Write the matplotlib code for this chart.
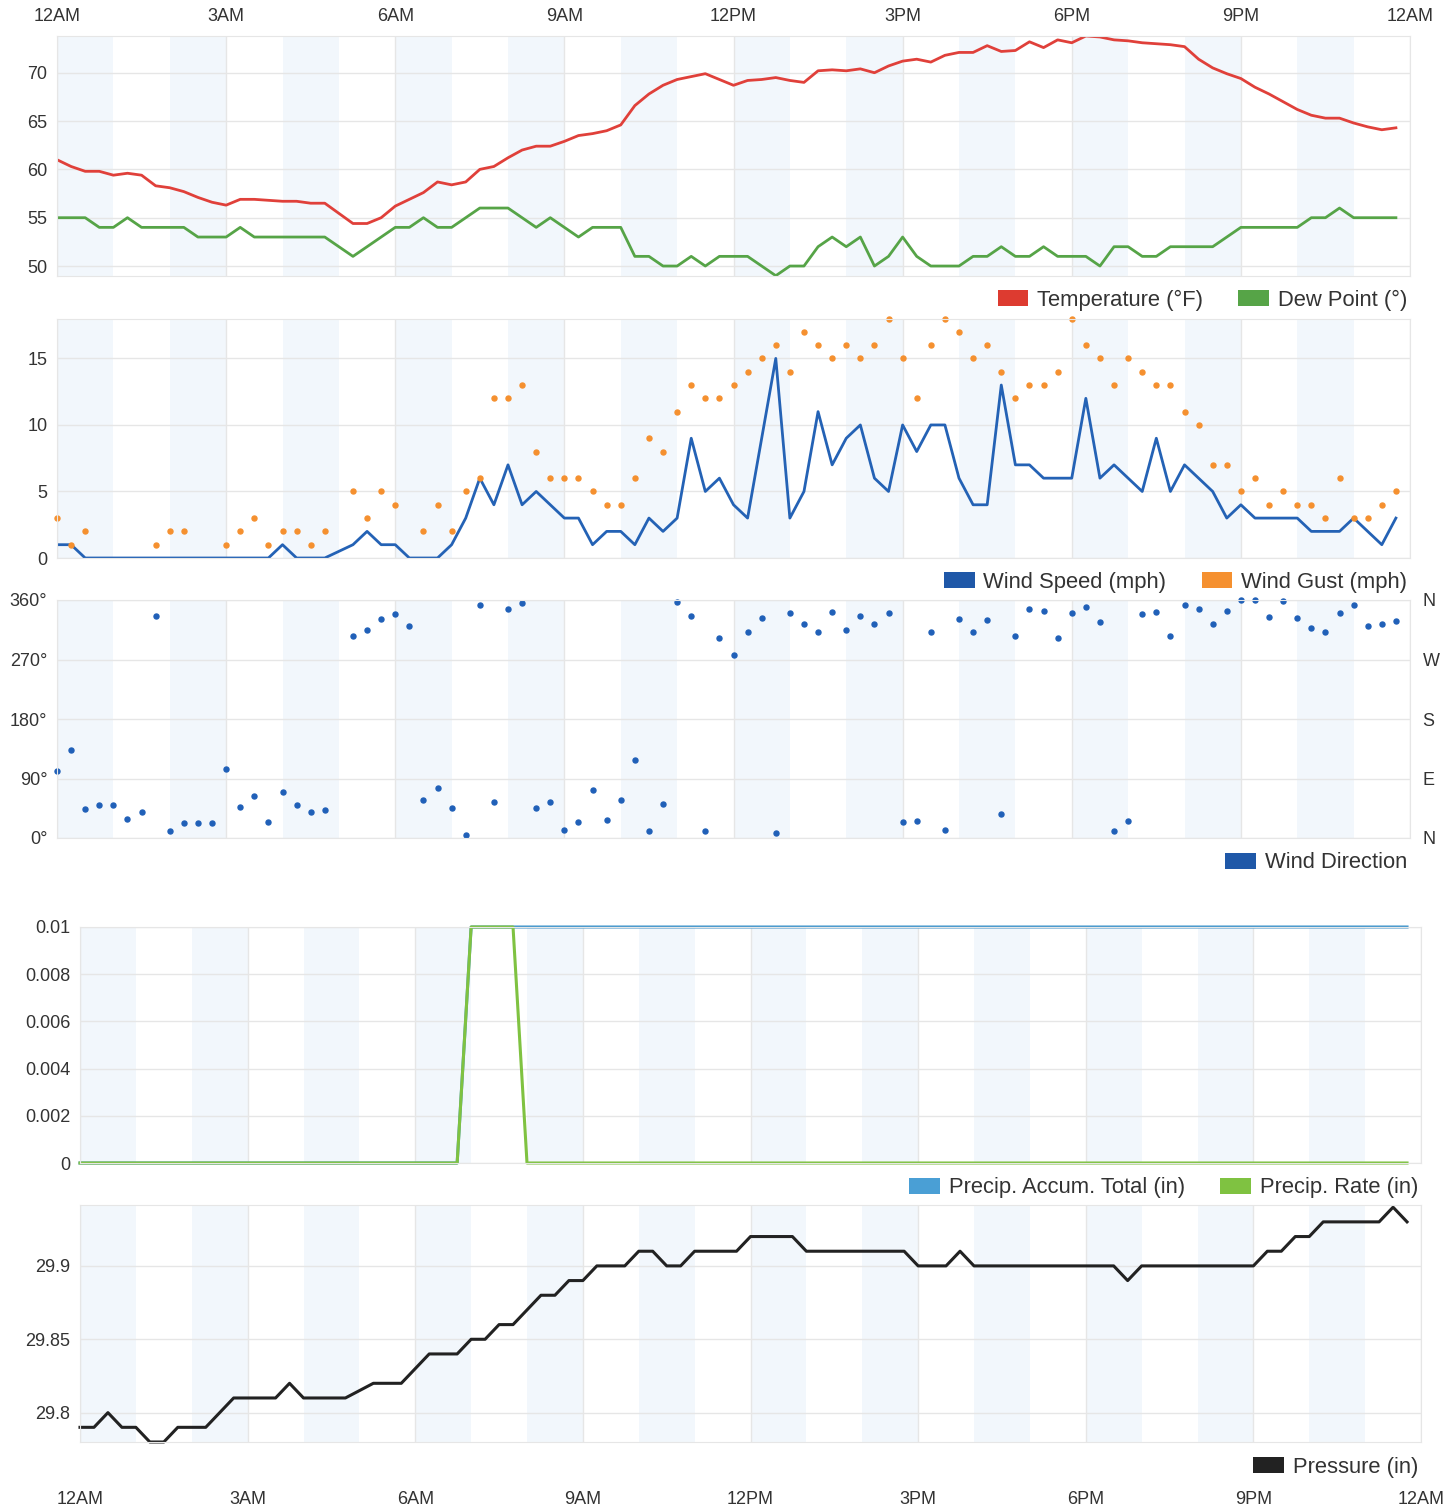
import matplotlib
matplotlib.use("Agg")
import matplotlib.pyplot as plt
import numpy as np
import pandas as pd
from matplotlib.patches import Patch

nan = np.nan

# readings every 15 minutes, the 5:00 reading is missing
times = pd.date_range("2021-06-01 00:00", periods=96, freq="15min")
times = times[times != pd.Timestamp("2021-06-01 05:00")]
hours = np.asarray((times - times[0]).total_seconds() / 3600.0)

temperature = [61.0, 60.3, 59.8, 59.8, 59.4, 59.6, 59.4, 58.3, 58.1, 57.7,
               57.1, 56.6, 56.3, 56.9, 56.9, 56.8, 56.7, 56.7, 56.5, 56.5,
               54.4, 54.4, 55.0, 56.2, 56.9, 57.6, 58.7, 58.4, 58.7, 60.0, 60.3,
               61.2, 62.0, 62.4, 62.4, 62.9, 63.5, 63.7, 64.0, 64.6, 66.6,
               67.8, 68.7, 69.3, 69.6, 69.9, 69.3, 68.7, 69.2, 69.3, 69.5,
               69.2, 69.0, 70.2, 70.3, 70.2, 70.4, 70.0, 70.7, 71.2, 71.4,
               71.1, 71.8, 72.1, 72.1,
               72.8, 72.2, 72.3, 73.2, 72.6, 73.4, 73.1, 73.8, 73.7, 73.4,
               73.3, 73.1, 73.0, 72.9, 72.7, 71.4, 70.5, 69.9, 69.4, 68.5,
               67.8, 67.0, 66.2, 65.6, 65.3, 65.3, 64.8, 64.4, 64.1, 64.3]

dew_point = [55, 55, 55, 54, 54, 55, 54, 54, 54, 54, 53, 53, 53, 54, 53, 53, 53, 53, 53, 53,
             51, 52, 53, 54, 54, 55, 54, 54, 55, 56, 56,
             56, 55, 54, 55, 54, 53, 54, 54, 54, 51, 51, 50, 50, 51, 50, 51, 51, 51, 50,
             49, 50, 50, 52, 53, 52, 53, 50, 51, 53, 51, 50, 50, 50, 51,
             51, 52, 51, 51, 52, 51, 51, 51, 50, 52, 52, 51, 51, 52, 52, 52, 52, 53, 54,
             54, 54, 54, 54, 55, 55, 56, 55, 55, 55, 55]

wind_speed = [1, 1, 0, 0, 0, 0, 0, 0, 0, 0, 0, 0, 0, 0, 0, 0, 1, 0, 0, 0,
              1, 2, 1, 1, 0, 0, 0, 1, 3, 6, 4,
              7, 4, 5, 4, 3, 3, 1, 2, 2, 1, 3, 2, 3, 9, 5, 6, 4, 3, 9, 15,
              3, 5, 11, 7, 9, 10, 6, 5, 10, 8, 10, 10, 6, 4,
              4, 13, 7, 7, 6, 6, 6, 12, 6, 7, 6, 5, 9, 5, 7, 6, 5, 3, 4, 3,
              3, 3, 3, 2, 2, 2, 3, 2, 1, 3]

wind_gust = [3, 1, 2, nan, nan, nan, nan, 1, 2, 2, nan, nan, 1, 2, 3, 1, 2, 2, 1, 2,
             5, 3, 5, 4, nan, 2, 4, 2, 5, 6, 12,
             12, 13, 8, 6, 6, 6, 5, 4, 4, 6, 9, 8, 11, 13, 12, 12, 13, 14, 15, 16,
             14, 17, 16, 15, 16, 15, 16, 18, 15, 12, 16, 18, 17, 15,
             16, 14, 12, 13, 13, 14, 18, 16, 15, 13, 15, 14, 13, 13, 11, 10, 7, 7, 5, 6,
             4, 5, 4, 4, 3, 6, 3, 3, 4, 5]

wind_dir = [102, 133, 44, 50, 50, 29, 40, 336, 11, 23, 22, 22, 104, 47, 64, 24, 70, 50, 40, 42,
            306, 315, 331, 339, 321, 57, 75, 46, 5, 353, 54,
            347, 356, 46, 54, 12, 24, 73, 27, 58, 118, 10, 52, 357, 336, 10, 303, 277, 311, 333,
            8, 341, 324, 311, 342, 315, 336, 324, 340, 24, 26, 311, 12, 332, 311,
            329, 36, 306, 346, 343, 302, 341, 350, 327, 10, 26, 339, 342, 306, 352, 346,
            324, 343, 360, 360, 334, 359, 333, 317, 311, 340, 352, 320, 324, 328]

precip_total = [0] * 27 + [0.01] * 68
precip_rate = [0] * 27 + [0.01] * 4 + [0] * 64

pressure = [29.79, 29.79, 29.80, 29.79, 29.79, 29.78, 29.78, 29.79, 29.79, 29.79,
            29.80, 29.81, 29.81, 29.81, 29.81, 29.82, 29.81, 29.81, 29.81, 29.81,
            29.82, 29.82, 29.82, 29.83, 29.84, 29.84, 29.84, 29.85, 29.85, 29.86, 29.86,
            29.87, 29.88, 29.88, 29.89, 29.89, 29.90, 29.90, 29.90, 29.91, 29.91,
            29.90, 29.90, 29.91, 29.91, 29.91, 29.91, 29.92, 29.92, 29.92, 29.92,
            29.91, 29.91, 29.91, 29.91, 29.91, 29.91, 29.91, 29.91, 29.90, 29.90,
            29.90, 29.91, 29.90, 29.90,
            29.90, 29.90, 29.90, 29.90, 29.90, 29.90, 29.90, 29.90, 29.90, 29.89,
            29.90, 29.90, 29.90, 29.90, 29.90, 29.90, 29.90, 29.90, 29.90, 29.91,
            29.91, 29.92, 29.92, 29.93, 29.93, 29.93, 29.93, 29.93, 29.94, 29.93]

hour_labels = ['12AM', '3AM', '6AM', '9AM', '12PM', '3PM', '6PM', '9PM', '12AM']

plt.rcParams['font.family'] = ['Liberation Sans', 'DejaVu Sans']

BAND = '#f2f7fc'
GRID = '#e6e6e6'
TXT = '#333333'
W, H = 1455, 1509

fig = plt.figure(figsize=(W / 100, H / 100), dpi=100)


def panel(l, t, r, b, yticks, ylabels, ylim):
    ax = fig.add_axes([l / W, 1 - b / H, (r - l) / W, (b - t) / H])
    ax.set_xlim(0, 24)
    ax.set_ylim(*ylim)
    for h in range(0, 24, 2):
        ax.axvspan(h, h + 1, color=BAND, lw=0, zorder=0)
    ax.set_xticks(range(0, 25, 3))
    ax.set_xticklabels(hour_labels)
    ax.set_yticks(yticks)
    ax.set_yticklabels(ylabels)
    ax.grid(True, color=GRID, lw=1)
    ax.set_axisbelow(True)
    for s in ax.spines.values():
        s.set_color(GRID)
    ax.tick_params(length=0, labelsize=13, colors=TXT, pad=7)
    ax.tick_params(axis='x', labelbottom=False)
    return ax


def legend(items, x, y):
    handles = [Patch(facecolor=c, edgecolor='none') for c, _ in items]
    fig.legend(handles, [lab for _, lab in items], loc='center right',
               bbox_to_anchor=(x / W, 1 - y / H), ncol=len(items), frameon=False,
               fontsize=15.8, handlelength=1.4, handleheight=0.75, handletextpad=0.4,
               columnspacing=1.6, borderpad=0, borderaxespad=0, labelcolor=TXT)


# Temperature / dew point
ax1 = panel(57, 36, 1410, 275.7, [50, 55, 60, 65, 70], ['50', '55', '60', '65', '70'], (49, 73.8))
ax1.plot(hours, temperature, color='#e0403a', lw=2)
ax1.plot(hours, dew_point, color='#56a447', lw=2)
ax1.tick_params(axis='x', labeltop=True, pad=8)
legend([('#dd3b30', 'Temperature (°F)'), ('#56a447', 'Dew Point (°)')], 1407, 300)

# Wind speed / gust
ax2 = panel(57, 318.5, 1410, 558, [0, 5, 10, 15], ['0', '5', '10', '15'], (0, 18))
ax2.plot(hours, wind_speed, color='#2462b5', lw=2)
ax2.plot(hours, wind_gust, 'o', color='#f5902f', ms=3.6, ls='none', clip_on=False)
legend([('#1f58a8', 'Wind Speed (mph)'), ('#f5902f', 'Wind Gust (mph)')], 1407, 582)

# Wind direction
ax3 = panel(57, 600, 1410, 838, [0, 90, 180, 270, 360], ['0°', '90°', '180°', '270°', '360°'], (0, 360))
ax3.plot(hours, wind_dir, 'o', color='#2060b8', ms=3.6, ls='none', clip_on=False)
ax3r = ax3.twinx()
ax3r.set_ylim(0, 360)
ax3r.set_yticks([0, 90, 180, 270, 360])
ax3r.set_yticklabels(['N', 'E', 'S', 'W', 'N'])
ax3r.tick_params(length=0, labelsize=13, colors=TXT, pad=9)
for s in ax3r.spines.values():
    s.set_visible(False)
legend([('#1f58a8', 'Wind Direction')], 1407, 863)

# Precipitation
ax4 = panel(80, 927, 1421, 1163, [0, 0.002, 0.004, 0.006, 0.008, 0.01],
            ['0', '0.002', '0.004', '0.006', '0.008', '0.01'], (0, 0.01))
ax4.plot(hours, precip_total, color='#4597cc', lw=2.2, clip_on=False)
ax4.plot(hours, precip_rate, color='#7fc241', lw=2.2, clip_on=False)
legend([('#4a9fd5', 'Precip. Accum. Total (in)'), ('#7fc241', 'Precip. Rate (in)')], 1418, 1188)

# Pressure
ax5 = panel(80, 1205, 1421, 1442, [29.8, 29.85, 29.9], ['29.8', '29.85', '29.9'], (29.78, 29.9415))
ax5.plot(hours, pressure, color='#222222', lw=2.2, clip_on=False)
ax5.tick_params(axis='x', labelbottom=True, pad=35)
legend([('#222222', 'Pressure (in)')], 1418, 1467)

fig.savefig("out.png", dpi=100)
